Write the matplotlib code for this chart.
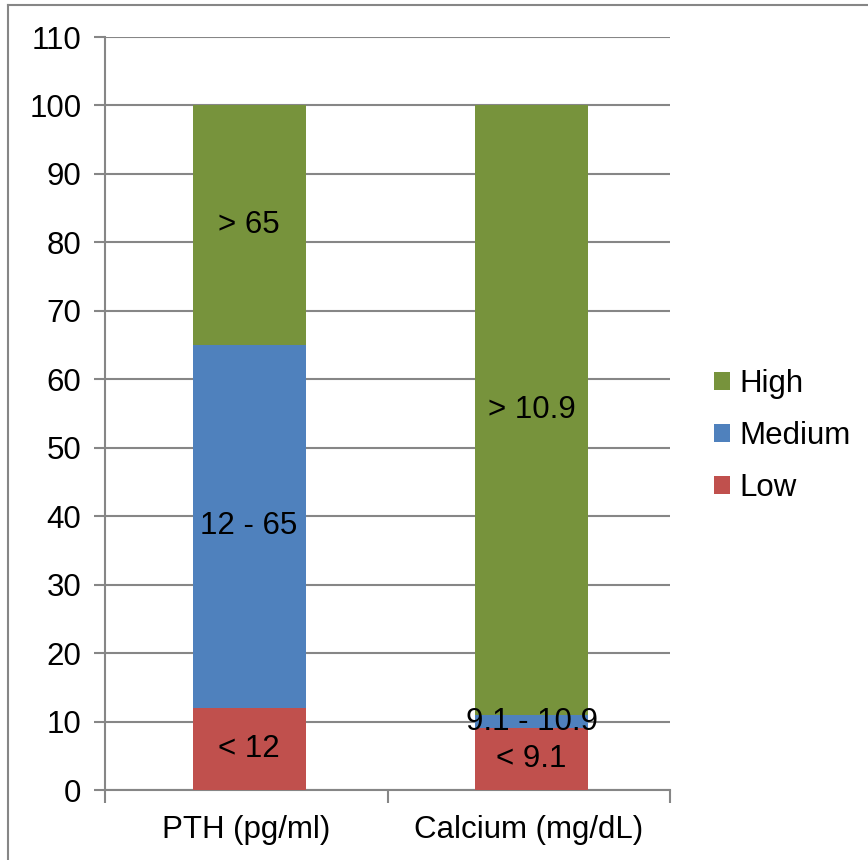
import matplotlib
matplotlib.use("Agg")
import matplotlib.pyplot as plt
from matplotlib.lines import Line2D
import numpy as np

plt.rcParams['font.family'] = ['Liberation Sans', 'DejaVu Sans']

categories = ["PTH (pg/ml)", "Calcium (mg/dL)"]
series_names = ["Low", "Medium", "High"]
low = [12, 9]
medium = [53, 2]
high = [35, 89]
low_labels = ["< 12", "< 9.1"]
medium_labels = ["12 - 65", "9.1 - 10.9"]
high_labels = ["> 65", "> 10.9"]
yticks = [0, 10, 20, 30, 40, 50, 60, 70, 80, 90, 100, 110]

colors = {"Low": "#C0504D", "Medium": "#4F81BD", "High": "#77933C"}
grid_c = "#868686"
FS = 22.5

W, H = 868, 860
fig = plt.figure(figsize=(W / 100, H / 100), dpi=100)
ax = fig.add_axes([105 / W, 1 - 790 / H, (670 - 105) / W, (790 - 37) / H])

x = np.arange(len(categories))
bw = 0.4
vals = [low, medium, high]
labs = [low_labels, medium_labels, high_labels]
bottom = np.zeros(len(categories))
bars = {}
for name, v, lb in zip(series_names, vals, labs):
    b = ax.bar(x + 0.01, v, bw, bottom=bottom, color=colors[name], label=name, zorder=3)
    bars[name] = b
    for i in range(len(categories)):
        ax.text(x[i] + 0.01, bottom[i] + v[i] / 2, lb[i], ha='center', va='center',
                fontsize=FS, color='black', zorder=5)
    bottom = bottom + np.array(v)

ax.set_xlim(-0.5, 1.5)
ax.set_ylim(0, 110)
ax.set_yticks(yticks)
ax.set_yticklabels([str(t) for t in yticks], fontsize=FS)
ax.set_xticks([-0.5, 0.5, 1.5], minor=False)
ax.set_xticklabels([])
ax.set_xticks(x, minor=True)
ax.set_xticklabels(categories, minor=True, fontsize=FS)
ax.tick_params(axis='x', which='minor', length=0, pad=18)
ax.tick_params(axis='x', which='major', length=9, color=grid_c, width=1.5, direction='out')
ax.tick_params(axis='y', length=8, color=grid_c, width=1.5, direction='out', pad=9)

ax.yaxis.grid(True, color=grid_c, linewidth=1.5, zorder=0)
ax.set_axisbelow(True)
for s in ['top', 'right']:
    ax.spines[s].set_visible(False)
for s in ['left', 'bottom']:
    ax.spines[s].set_color(grid_c)
    ax.spines[s].set_linewidth(1.5)

handles = [bars["High"], bars["Medium"], bars["Low"]]
leg = fig.legend(handles, ["High", "Medium", "Low"], loc='center left',
                 bbox_to_anchor=(714 / W, 1 - 436 / H), frameon=False,
                 fontsize=FS, handlelength=0.5, handleheight=0.5,
                 handletextpad=0.3, labelspacing=0.7, borderpad=0, borderaxespad=0)

# outer border (left and top visible)
fig.add_artist(Line2D([8 / W, 8 / W], [0, 1 - 5 / H], color=grid_c, lw=1.5,
                      transform=fig.transFigure))
fig.add_artist(Line2D([8 / W, 1], [1 - 5 / H, 1 - 5 / H], color=grid_c, lw=1.5,
                      transform=fig.transFigure))

fig.savefig("out.png", dpi=100)
